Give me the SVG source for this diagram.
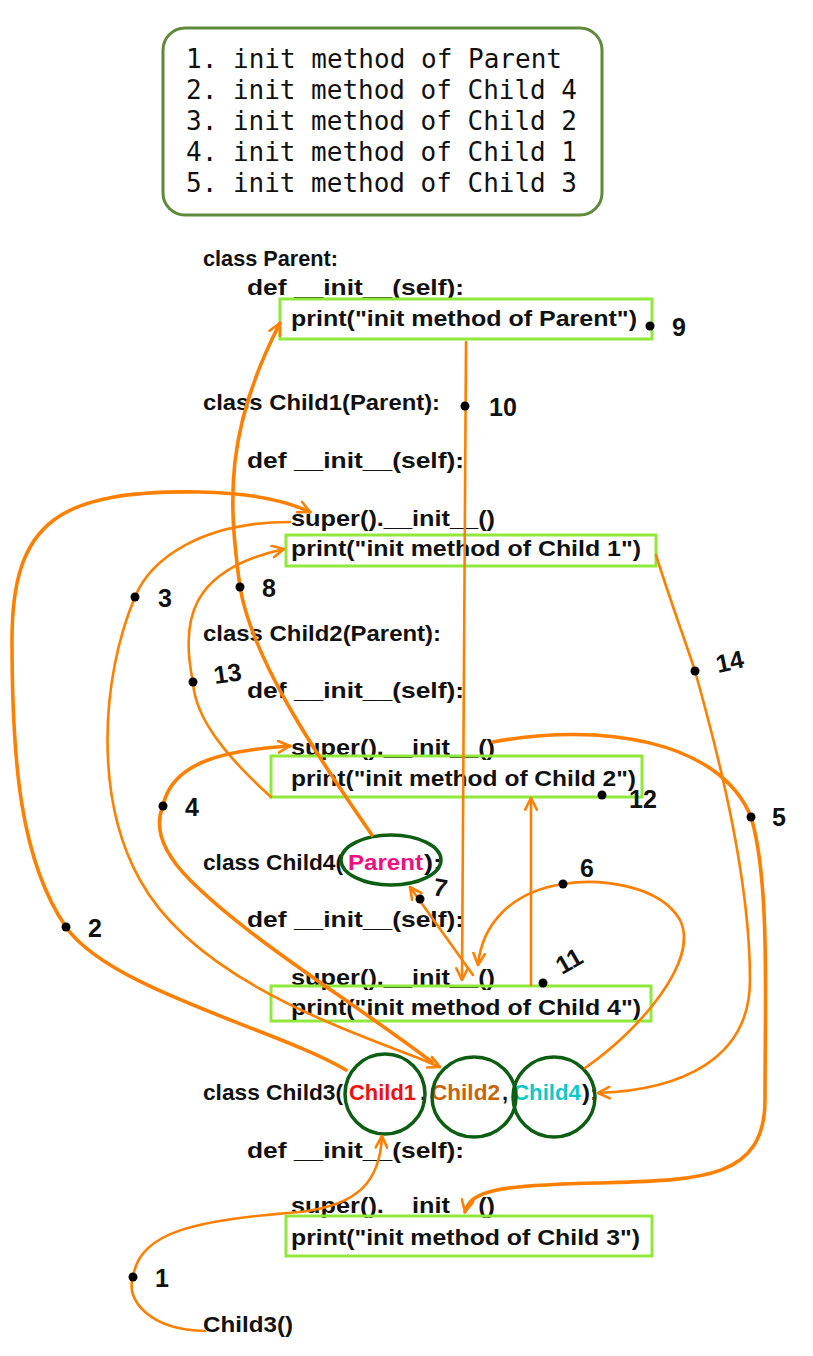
<svg xmlns="http://www.w3.org/2000/svg" width="813" height="1356" viewBox="0 0 813 1356">
<style>
.code{font-family:"Liberation Sans",Lato,sans-serif;font-size:22px;font-weight:bold;fill:#111}
.mono{font-family:"DejaVu Sans Mono",monospace;font-size:26px;fill:#111}
.num{font-family:"Liberation Sans",Lato,sans-serif;font-size:25px;font-weight:bold;fill:#111}
.pbox{fill:none;stroke:#8fe83a;stroke-width:3}
.ring{fill:none;stroke:#0d5e12;stroke-width:3.5}
.con{fill:none;stroke:#ff8000;stroke-width:2.6;stroke-linecap:round}
.thick{stroke-width:3.6}
.dot{fill:#000}
</style>
<defs>
<marker id="ah" viewBox="0 0 12 12" refX="11" refY="6" markerWidth="14" markerHeight="14" markerUnits="userSpaceOnUse" orient="auto">
<path d="M1,1 L11,6 L1,11" fill="none" stroke="#ff8000" stroke-width="2.2" stroke-linecap="round" stroke-linejoin="round"/>
</marker>
</defs>
<g id="legend">
<rect x="163" y="28" width="439" height="187" rx="22" fill="#fff" stroke="#5e8a3a" stroke-width="3"/>
<text class="mono" x="186" y="68" textLength="376">1. init method of Parent</text>
<text class="mono" x="186" y="99" textLength="391">2. init method of Child 4</text>
<text class="mono" x="186" y="130" textLength="391">3. init method of Child 2</text>
<text class="mono" x="186" y="161" textLength="391">4. init method of Child 1</text>
<text class="mono" x="186" y="192" textLength="391">5. init method of Child 3</text>
</g>
<g id="parent">
<text class="code" x="203" y="266" textLength="135" lengthAdjust="spacingAndGlyphs">class Parent:</text>
<text class="code" x="247" y="295" textLength="217" lengthAdjust="spacingAndGlyphs">def __init__(self):</text>
<rect class="pbox" x="280" y="299" width="372" height="40"/>
<text class="code" x="291" y="326" textLength="346" lengthAdjust="spacingAndGlyphs">print("init method of Parent")</text>
</g>
<g id="child1">
<text class="code" x="203" y="410" textLength="237" lengthAdjust="spacingAndGlyphs">class Child1(Parent):</text>
<text class="code" x="247" y="468" textLength="217" lengthAdjust="spacingAndGlyphs">def __init__(self):</text>
<text class="code" x="291" y="526" textLength="204" lengthAdjust="spacingAndGlyphs">super().__init__()</text>
<rect class="pbox" x="286" y="535" width="370" height="31"/>
<text class="code" x="291" y="556" textLength="350" lengthAdjust="spacingAndGlyphs">print("init method of Child 1")</text>
</g>
<g id="child2">
<text class="code" x="203" y="641" textLength="238" lengthAdjust="spacingAndGlyphs">class Child2(Parent):</text>
<text class="code" x="247" y="698" textLength="217" lengthAdjust="spacingAndGlyphs">def __init__(self):</text>
<text class="code" x="291" y="755" textLength="204" lengthAdjust="spacingAndGlyphs">super().__init__()</text>
<rect class="pbox" x="271" y="756" width="371" height="41"/>
<text class="code" x="291" y="786" textLength="345" lengthAdjust="spacingAndGlyphs">print("init method of Child 2")</text>
</g>
<g id="child4">
<text class="code" x="203" y="870" textLength="140" lengthAdjust="spacingAndGlyphs">class Child4(</text>
<text class="code" x="348" y="870" textLength="75" lengthAdjust="spacingAndGlyphs" style="fill:#f0107e">Parent</text>
<text class="code" x="424" y="870" textLength="18" lengthAdjust="spacingAndGlyphs">):</text>
<ellipse class="ring" cx="391" cy="860" rx="50" ry="25"/>
<text class="code" x="247" y="927" textLength="217" lengthAdjust="spacingAndGlyphs">def __init__(self):</text>
<text class="code" x="291" y="985" textLength="204" lengthAdjust="spacingAndGlyphs">super().__init__()</text>
<rect class="pbox" x="271" y="986" width="380" height="35"/>
<text class="code" x="291" y="1015" textLength="350" lengthAdjust="spacingAndGlyphs">print("init method of Child 4")</text>
</g>
<g id="child3">
<text class="code" x="203" y="1100" textLength="140" lengthAdjust="spacingAndGlyphs">class Child3(</text>
<text class="code" x="349" y="1100" textLength="67" lengthAdjust="spacingAndGlyphs" style="fill:#f01010">Child1</text>
<text class="code" x="420" y="1100">,</text>
<text class="code" x="431" y="1100" textLength="69" lengthAdjust="spacingAndGlyphs" style="fill:#c8650c">Child2</text>
<text class="code" x="502" y="1100">,</text>
<text class="code" x="513" y="1100" textLength="68" lengthAdjust="spacingAndGlyphs" style="fill:#10c8c8">Child4</text>
<text class="code" x="582" y="1100" textLength="16" lengthAdjust="spacingAndGlyphs">):</text>
<ellipse class="ring" cx="385" cy="1094" rx="40" ry="40"/>
<ellipse class="ring" cx="474" cy="1097" rx="42" ry="40"/>
<ellipse class="ring" cx="554" cy="1097" rx="41" ry="40"/>
<text class="code" x="247" y="1158" textLength="217" lengthAdjust="spacingAndGlyphs">def __init__(self):</text>
<text class="code" x="291" y="1213" textLength="204" lengthAdjust="spacingAndGlyphs">super().__init__()</text>
<rect class="pbox" x="286" y="1216" width="366" height="40"/>
<text class="code" x="291" y="1245" textLength="349" lengthAdjust="spacingAndGlyphs">print("init method of Child 3")</text>
</g>
<g id="call">
<text class="code" x="203" y="1332" textLength="90" lengthAdjust="spacingAndGlyphs">Child3()</text>
</g>
<g id="connectors">
<path class="con" d="M 205 1331 C 150 1330 125 1300 133 1277 C 140 1230 200 1220 300 1212 C 360 1205 380 1180 382 1136" marker-end="url(#ah)"/>
<path class="con thick" d="M 346 1070 C 280 1030 110 990 66 927 C 20 860 12 760 12 640 C 12 520 60 490 200 492 C 250 493 285 500 310 512" marker-end="url(#ah)"/>
<path class="con" d="M 290 522 C 200 522 150 560 135 597 C 100 680 95 800 140 880 C 200 990 380 1040 440 1067" marker-end="url(#ah)"/>
<path class="con thick" d="M 432 1062 C 350 1000 250 940 190 880 C 160 850 155 825 163 806 C 172 760 230 750 290 746" marker-end="url(#ah)"/>
<path class="con thick" d="M 493 742 C 600 722 720 740 751 817 C 770 880 765 1000 765 1100 C 765 1180 700 1180 600 1183 C 500 1185 470 1190 465 1212" marker-end="url(#ah)"/>
<path class="con" d="M 585 1068 C 640 1030 700 960 680 920 C 660 885 600 878 563 884 C 510 892 482 925 478 965" marker-end="url(#ah)"/>
<path class="con" d="M 473 975 L 410 887" marker-end="url(#ah)"/>
<path class="con thick" d="M 372 835 C 320 760 252 660 240 587 C 228 500 225 430 280 323" marker-end="url(#ah)"/>
<path class="con" d="M 466 342 L 462 980" marker-end="url(#ah)"/>
<path class="con" d="M 531 985 L 531 798" marker-end="url(#ah)"/>
<path class="con" d="M 271 797 C 230 760 195 720 193 682 C 180 620 190 570 284 549" marker-end="url(#ah)"/>
<path class="con" d="M 656 555 C 670 600 685 640 695 671 C 720 760 750 880 750 980 C 750 1060 680 1090 598 1093" marker-end="url(#ah)"/>
</g>
<g id="markers">
<circle class="dot" cx="650" cy="326" r="4.5"/><text class="num" x="672" y="336">9</text>
<circle class="dot" cx="465" cy="406" r="4.5"/><text class="num" x="489" y="416">10</text>
<circle class="dot" cx="135" cy="597" r="4.5"/><text class="num" x="158" y="607">3</text>
<circle class="dot" cx="240" cy="587" r="4.5"/><text class="num" x="262" y="597">8</text>
<circle class="dot" cx="193" cy="682" r="4.5"/><text class="num" x="215" y="684" transform="rotate(-8 215 684)">13</text>
<circle class="dot" cx="695" cy="671" r="4.5"/><text class="num" x="718" y="673" transform="rotate(-12 718 673)">14</text>
<circle class="dot" cx="163" cy="806" r="4.5"/><text class="num" x="185" y="816">4</text>
<circle class="dot" cx="602" cy="795" r="4.5"/><text class="num" x="629" y="808">12</text>
<circle class="dot" cx="751" cy="817" r="4.5"/><text class="num" x="772" y="826">5</text>
<circle class="dot" cx="66" cy="927" r="4.5"/><text class="num" x="88" y="937">2</text>
<circle class="dot" cx="563" cy="884" r="4.5"/><text class="num" x="580" y="877">6</text>
<circle class="dot" cx="420" cy="899" r="4.5"/><text class="num" x="432" y="895" transform="rotate(10 432 895)">7</text>
<circle class="dot" cx="543" cy="983" r="4.5"/><text class="num" x="562" y="975" transform="rotate(-30 562 975)">11</text>
<circle class="dot" cx="133" cy="1277" r="4.5"/><text class="num" x="155" y="1287">1</text>
</g>
</svg>
